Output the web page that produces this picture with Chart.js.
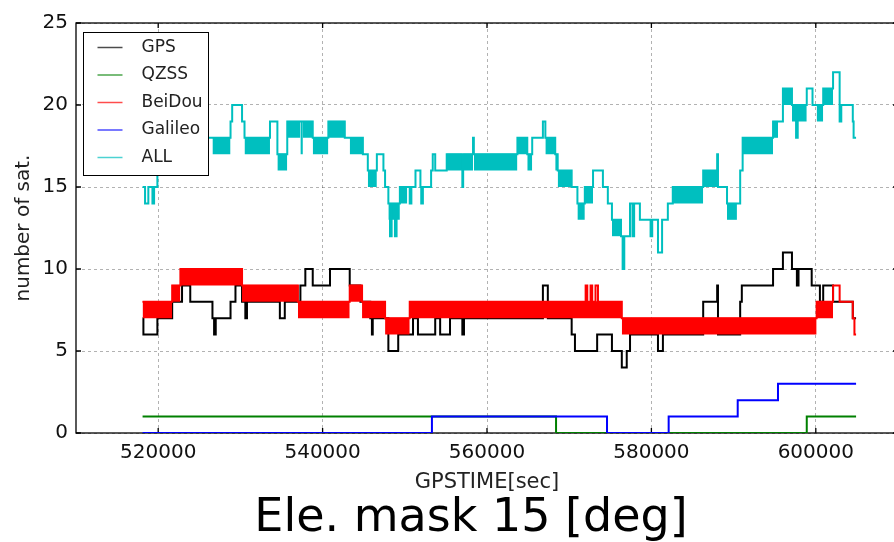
<!DOCTYPE html>
<html>
<head>
<meta charset="utf-8">
<script src="https://cdn.jsdelivr.net/npm/chart.js@4.4.1/dist/chart.umd.min.js"></script>
<style>
html, body { margin: 0; padding: 0; overflow: hidden; background: #fff; }
#wrap { width: 942px; height: 542px; }
</style>
</head>
<body>
<div id="wrap"><canvas id="satChart"></canvas></div>
<script>
var xTicks = [520000, 540000, 560000, 580000, 600000];
var yTicks = [0, 5, 10, 15, 20, 25];

// [GPS time (s), number of satellites], each point starts a step
var gps = [[518100,7],[518200,6],[519900,7],[521700,8],[522900,9],[523900,8],[526600,7],[526800,6],[527000,7],
  [528800,8],[529400,9],[530200,8],[530600,7],[530800,8],[534800,7],[535400,8],[537300,9],[537900,10],[538800,9],
  [540900,10],[543300,9],[544600,8],[545800,7],[546000,6],[546100,7],[548000,5],[549200,6],[551000,7],[551600,6],
  [553700,7],[554300,6],[555500,7],[557000,6],[557200,7],[566800,9],[567400,7],[570300,6],[570700,5],[573400,6],
  [575200,5],[576400,4],[577000,5],[577400,6],[580800,5],[581400,6],[586300,8],[588000,9],[588100,6],[590800,8],
  [591000,9],[594800,10],[596000,11],[597100,10],[597700,9],[597900,10],[599500,9],[600500,8],[600900,9],
  [602100,8],[604500,7],[604900,7]];
var qzss = [[518100,1],[568400,0],[598900,1],[604900,1]];
var beidou = [[518100,8],[521700,9],[522700,10],[530200,9],[537000,8],[543300,9],[544800,8],[547600,7],[550600,8],
  [572000,9],[572200,8],[572600,9],[572800,8],[573200,9],[573500,8],[576400,7],[600100,8],[602100,9],[602900,8],
  [604500,7],[604700,6],[604900,6]];
var galileo = [[518100,0],[553300,1],[574600,0],[582100,1],[590500,2],[595400,3],[604900,3]];
var all = [[518100,15],[518400,14],[518800,15],[519300,14],[519500,15],[519900,16],[520900,17],[522100,18],
  [525100,19],[525700,18],[528800,19],[529000,20],[530200,19],[530500,18],[533600,19],[534500,17],[535700,19],
  [538800,18],[540700,19],[542700,18],[544900,17],[545500,16],[546600,17],[547400,16],[547600,15],[548000,14],
  [548200,12],[548400,14],[548800,12],[549000,14],[549400,15],[550600,14],[550800,15],[551300,16],[551900,15],
  [552000,14],[552200,15],[553200,16],[553400,17],[553700,16],[555100,17],[557000,15],[557100,17],[558300,18],
  [558400,17],[563700,18],[564900,17],[565500,18],[566800,19],[567100,18],[568300,17],[568600,16],[570300,15],
  [571000,14],[571900,15],[572900,16],[574100,15],[574700,14],[575200,13],[576300,12],[576500,10],[576700,12],
  [577400,14],[577700,12],[577900,14],[578600,13],[579900,12],[580100,13],[580800,11],[581300,13],[582000,14],
  [582600,15],[586300,16],[588000,17],[588100,15],[589200,14],[590400,14],[590800,16],[591100,18],[594800,19],
  [596000,21],[597100,20],[597600,18],[597800,20],[598900,21],[599600,20],[600900,21],[602100,22],[602900,19],
  [603100,20],[604500,19],[604600,18],[604900,18]];

// stretches where the count flips back and forth fast: [from, to, low, high]
var beidouBands = [[518100,521700,7,8],[521700,522700,8,9],[522700,530200,9,10],[530200,537000,8,9],
  [537000,543300,7,8],[543300,544800,8,9],[544800,547600,7,8],[547600,550600,6,7],[550600,576400,7,8],
  [576400,600100,6,7],[600100,602100,7,8]];
var allBands = [[526600,528800,17,18],[530500,533600,17,18],[534500,535700,16,17],[535700,537300,18,19],
  [537300,537600,17,19],[537600,538800,18,19],[538800,540700,17,18],[540700,542700,18,19],[543300,544900,17,18],
  [545500,546600,15,16],[548000,549400,13,14],[549400,550300,14,15],[555100,557000,16,17],[557100,558300,16,17],
  [558400,563700,16,17],[563700,564900,17,18],[564900,565500,16,17],[567100,568300,17,18],[568300,568600,16,17],
  [568600,570300,15,16],[571000,571900,13,14],[571900,572900,14,15],[575200,576300,12,13],[582600,586300,14,15],
  [586300,588000,15,16],[589200,590400,13,14],[591100,594800,17,18],[594800,595400,18,19],[596000,597100,20,21],
  [597100,598900,19,20],[600100,600900,19,20],[600900,602100,20,21]];

function pts(arr) {
  return arr.map(function (p) { return { x: p[0], y: p[1] }; });
}
function series(label, arr, color, order) {
  return { label: label, data: pts(arr), borderColor: color, backgroundColor: color, yAxisID: 'y',
    borderWidth: 2, stepped: 'before', pointRadius: 0, fill: false, order: order };
}
function bands(arr, color, order) {
  return arr.map(function (b) {
    return { data: [{ x: b[0], y: b[3] }, { x: b[1], y: b[3] }], fill: { value: b[2] }, yAxisID: 'y',
      borderColor: color, backgroundColor: color, borderWidth: 1, pointRadius: 0, order: order };
  });
}

var datasets = [
  series('GPS', gps, '#000000', 50),
  series('QZSS', qzss, '#008000', 40),
  series('BeiDou', beidou, '#ff0000', 30),
  series('Galileo', galileo, '#0000ff', 20),
  series('ALL', all, '#00bfbf', 10)
].concat(bands(beidouBands, '#ff0000', 31), bands(allBands, '#00bfbf', 11));

// box round the plot with inward tick marks
var frame = {
  id: 'frame',
  beforeDatasetsDraw: function (chart) {
    var ctx = chart.ctx, a = chart.chartArea, xs = chart.scales.x, ys = chart.scales.y;
    ctx.save();
    ctx.strokeStyle = '#000';
    ctx.lineWidth = 1.3;
    ctx.strokeRect(a.left, a.top, a.right - a.left, a.bottom - a.top);
    ctx.beginPath();
    xTicks.forEach(function (v) {
      var px = xs.getPixelForValue(v);
      ctx.moveTo(px, a.bottom); ctx.lineTo(px, a.bottom - 5);
      ctx.moveTo(px, a.top); ctx.lineTo(px, a.top + 5);
    });
    yTicks.forEach(function (v) {
      var py = ys.getPixelForValue(v);
      ctx.moveTo(a.left, py); ctx.lineTo(a.left + 5, py);
      ctx.moveTo(a.right, py); ctx.lineTo(a.right - 5, py);
    });
    ctx.stroke();
    ctx.restore();
  }
};

// legend inside the plot, top left
var legendBox = {
  id: 'legendBox',
  afterDraw: function (chart) {
    var ctx = chart.ctx, a = chart.chartArea;
    var x = a.left + 7.5, y = a.top + 9.5, w = 125, h = 143;
    var items = chart.data.datasets.filter(function (d) { return d.label; });
    ctx.save();
    ctx.fillStyle = '#fff';
    ctx.fillRect(x, y, w, h);
    ctx.strokeStyle = '#000';
    ctx.lineWidth = 1;
    ctx.strokeRect(x, y, w, h);
    ctx.font = '17px "DejaVu Sans"';
    ctx.textBaseline = 'middle';
    items.forEach(function (d, i) {
      var cy = y + 15 + i * 27.5;
      ctx.globalAlpha = 0.7;
      ctx.strokeStyle = d.borderColor;
      ctx.lineWidth = 1.5;
      ctx.beginPath(); ctx.moveTo(x + 14, cy); ctx.lineTo(x + 39, cy); ctx.stroke();
      ctx.globalAlpha = 1;
      ctx.fillStyle = '#222';
      ctx.fillText(d.label, x + 58, cy);
    });
    ctx.restore();
  }
};

Chart.defaults.font.family = '"DejaVu Sans", sans-serif';
Chart.defaults.color = '#111';

var ctx = document.getElementById('satChart').getContext('2d');
var satChart = new Chart(ctx, {
  type: 'line',
  data: { datasets: datasets },
  options: {
    responsive: true,
    maintainAspectRatio: false,
    animation: false,
    events: [],
    layout: { padding: { top: 23, right: 0, left: 0, bottom: 0 } },
    scales: {
      x: {
        type: 'linear', min: 510000, max: 610000,
        afterBuildTicks: function (s) { s.ticks = xTicks.map(function (v) { return { value: v }; }); },
        afterFit: function (s) { s.height = 60; },
        grid: { color: 'rgba(0,0,0,0.3)', lineWidth: 1, drawTicks: false },
        border: { display: false, dash: [3, 3] },
        ticks: { padding: 8, font: { size: 20 }, maxRotation: 0, autoSkip: false,
          callback: function (v) { return String(v); } },
        title: { display: true, text: 'GPSTIME[sec]', color: '#222', font: { size: 21, lineHeight: 1 },
          padding: { top: 0, bottom: 0 } }
      },
      y: {
        min: 0, max: 25,
        afterBuildTicks: function (s) { s.ticks = yTicks.map(function (v) { return { value: v }; }); },
        afterFit: function (s) { s.width = 76; },
        grid: { color: 'rgba(0,0,0,0.3)', lineWidth: 1, drawTicks: false },
        border: { display: false, dash: [3, 3] },
        ticks: { padding: 8, font: { size: 20 } },
        title: { display: true, text: 'number of sat.', color: '#222', font: { size: 20 },
          padding: { top: 12, bottom: 0 } }
      },
      // empty strip on the right, cut off by the window like in the source image
      yRight: {
        position: 'right', min: 0, max: 25,
        afterFit: function (s) { s.width = 44; },
        grid: { drawOnChartArea: false, drawTicks: false },
        border: { display: false },
        ticks: { display: false }
      }
    },
    plugins: {
      legend: { display: false },
      tooltip: { enabled: false },
      title: { display: true, text: 'Ele. mask 15 [deg]', position: 'bottom', color: '#000',
        font: { size: 46, weight: 'normal', lineHeight: 1 }, padding: { top: 3, bottom: 0 } }
    }
  },
  plugins: [frame, legendBox]
});
</script>
</body>
</html>
